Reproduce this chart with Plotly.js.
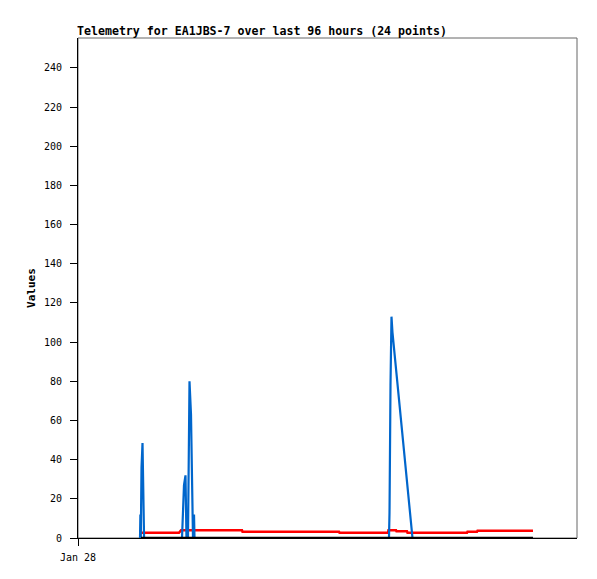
<!DOCTYPE html>
<html>
<head>
<meta charset="utf-8">
<script src="https://cdn.plot.ly/plotly-3.0.1.min.js"></script>
<style>html,body{margin:0;padding:0;background:#fff;}#chart{width:597px;height:579px;}</style>
</head>
<body>
<div id="chart"></div>
<script>
// Hours since Jan 28 00:00
const blueHours = [11.93, 12.00, 12.08, 12.16, 12.22, 12.41, 12.60, 12.71,
  20.01, 20.20, 20.39, 20.68, 20.87, 21.16, 21.26, 21.45, 21.74, 22.03, 22.12, 22.32, 22.41,
  59.83, 59.93, 60.12, 60.31, 60.50, 64.35, 87.53];
const blueValues = [0, 12, 0, 36, 36, 48.5, 24.5, 0,
  0, 16, 27, 32, 0, 0, 41, 80, 63, 25, 0, 12, 0,
  0, 13, 78, 113, 105, 0, 0];

const redHours = [12.12, 19.43, 19.82, 31.55, 31.65, 50.21, 50.31, 59.64, 59.73, 61.18, 61.27,
  63.29, 63.39, 74.84, 74.93, 76.76, 76.86, 87.53];
const redValues = [2.7, 2.7, 3.9, 3.9, 3.2, 3.2, 2.7, 2.7, 3.9, 3.9, 3.4,
  3.4, 2.7, 2.7, 3.2, 3.2, 3.7, 3.7];

const blackHours = [12.12, 87.53];
const blackValues = [0, 0];

const xTickVals = [0];
const xTickText = ['Jan 28'];
const yTickVals = [0, 20, 40, 60, 80, 100, 120, 140, 160, 180, 200, 220, 240];

const traces = [
  {x: redHours, y: redValues, type: 'scatter', mode: 'lines', line: {color: '#ff0000', width: 2.5}, hoverinfo: 'skip'},
  {x: blueHours, y: blueValues, type: 'scatter', mode: 'lines', line: {color: '#0066cc', width: 2.2}, hoverinfo: 'skip'},
  {x: blackHours, y: blackValues, type: 'scatter', mode: 'lines', line: {color: '#000000', width: 2.5}, hoverinfo: 'skip'}
];

const mono = '"DejaVu Sans Mono", monospace';
const layout = {
  width: 597, height: 579,
  margin: {l: 78, r: 20, t: 38, b: 41, pad: 0},
  paper_bgcolor: '#ffffff', plot_bgcolor: '#ffffff',
  showlegend: false,
  title: {
    text: '<b>Telemetry for EA1JBS-7 over last 96 hours (24 points)</b>',
    font: {family: mono, size: 11.6, color: '#000'},
    xref: 'paper', x: 0, xanchor: 'left',
    yref: 'container', y: 1 - 31/579, yanchor: 'middle', pad: {l: -1}
  },
  xaxis: {
    range: [0, 96], showgrid: false, zeroline: false,
    showline: true, linecolor: '#000', linewidth: 1,
    ticks: 'outside', ticklen: 7, tickcolor: '#000', tickwidth: 1,
    tickvals: xTickVals, ticktext: xTickText, ticklabelstandoff: 3,
    tickfont: {family: mono, size: 10, color: '#000'}
  },
  yaxis: {
    range: [0, 255.3], showgrid: false, zeroline: false,
    showline: true, linecolor: '#000', linewidth: 1,
    ticks: 'outside', ticklen: 7, tickcolor: '#000', tickwidth: 1,
    tickvals: yTickVals, ticklabelstandoff: 6,
    tickfont: {family: mono, size: 10, color: '#000'},
    title: {text: '<b>Values</b>', font: {family: mono, size: 11, color: '#000'}, standoff: 6}
  },
  shapes: [
    {type: 'rect', xref: 'paper', yref: 'paper', x0: 0, x1: 1, y0: 0, y1: 1,
     line: {color: '#666666', width: 1}, fillcolor: 'rgba(0,0,0,0)', layer: 'below'}
  ]
};

Plotly.newPlot('chart', traces, layout, {staticPlot: true, displayModeBar: false});
</script>
</body>
</html>
